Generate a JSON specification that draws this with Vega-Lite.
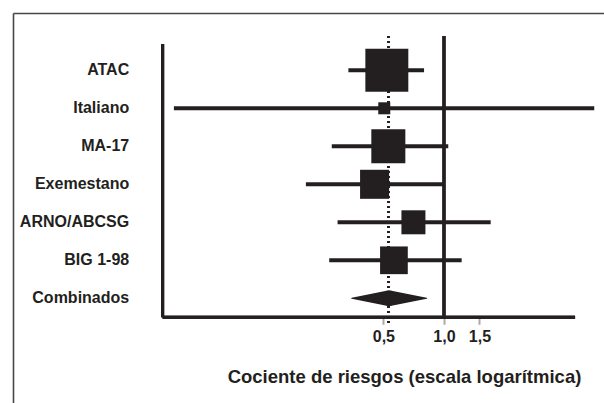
{
  "$schema": "https://vega.github.io/schema/vega-lite/v6.json",
  "width": 591,
  "height": 390,
  "autosize": {"type": "none"},
  "padding": {"left": 13, "top": 13, "right": 0, "bottom": 0},
  "background": "white",
  "config": {"view": {"stroke": null}, "font": "Liberation Sans", "axis": {"grid": false}},
  "datasets": {
    "studies": [
      {"study": "ATAC", "hr": 0.520, "lo": 0.335, "hi": 0.796, "weight": 34.6},
      {"study": "Italiano", "hr": 0.505, "lo": 0.0455, "hi": 5.58, "weight": 2.7},
      {"study": "MA-17", "hr": 0.529, "lo": 0.277, "hi": 1.05, "weight": 21.7},
      {"study": "Exemestano", "hr": 0.452, "lo": 0.206, "hi": 1.0, "weight": 15.8},
      {"study": "ARNO/ABCSG", "hr": 0.705, "lo": 0.296, "hi": 1.706, "weight": 10.8},
      {"study": "BIG 1-98", "hr": 0.564, "lo": 0.269, "hi": 1.224, "weight": 14.4}
    ],
    "pooled": [
      {"study": "Combinados", "hr": 0.348, "edge": 0},
      {"study": "Combinados", "hr": 0.533, "edge": 1},
      {"study": "Combinados", "hr": 0.820, "edge": 0}
    ]
  },
  "layer": [
    {
      "data": {"name": "pooled"},
      "mark": {"type": "rule", "color": "#231f20", "strokeWidth": 3},
      "encoding": {
        "x": {"datum": 0.04, "type": "quantitative",
          "scale": {"type": "log", "domain": [0.00722, 6.238], "nice": false},
          "axis": {"orient": "top", "offset": 0, "labels": false, "ticks": false, "grid": false, "title": null, "domainColor": "#474747", "domainWidth": 1.6}},
        "x2": {"datum": 4.48},
        "y": {"datum": "Combinados", "type": "nominal", "bandPosition": 1,
          "scale": {"type": "band", "domain": [" ", "ATAC", "Italiano", "MA-17", "Exemestano", "ARNO/ABCSG", "BIG 1-98", "Combinados", "  ", "   "], "paddingInner": 0, "paddingOuter": 0.1316, "align": 0.03},
          "axis": {"orient": "left", "offset": 0, "labels": false, "ticks": false, "title": null, "domainColor": "#474747", "domainWidth": 1.6}}
      }
    },
    {
      "data": {"name": "pooled"},
      "mark": {"type": "rule", "color": "#231f20", "strokeWidth": 3},
      "encoding": {
        "x": {"datum": 0.04, "type": "quantitative", "axis": null},
        "y": {"datum": "ATAC", "type": "nominal", "bandPosition": -0.19, "axis": null},
        "y2": {"datum": "Combinados", "bandPosition": 1}
      }
    },
    {
      "data": {"name": "pooled"},
      "mark": {"type": "rule", "color": "#231f20", "strokeWidth": 3},
      "encoding": {
        "x": {"datum": 1, "type": "quantitative", "axis": null},
        "y": {"datum": "ATAC", "type": "nominal", "bandPosition": -0.4, "axis": null},
        "y2": {"datum": "Combinados", "bandPosition": 1}
      }
    },
    {
      "data": {"name": "pooled"},
      "mark": {"type": "rule", "color": "#231f20", "strokeWidth": 2.5, "strokeDash": [2, 3]},
      "encoding": {
        "x": {"datum": 0.53, "type": "quantitative", "axis": null},
        "y": {"datum": "ATAC", "type": "nominal", "bandPosition": -0.4, "axis": null},
        "y2": {"datum": "Combinados", "bandPosition": 1.2}
      }
    },
    {
      "data": {"name": "studies"},
      "mark": {"type": "rule", "color": "#231f20", "strokeWidth": 4},
      "encoding": {
        "x": {"field": "lo", "type": "quantitative",
          "axis": {"orient": "bottom", "offset": -85.7, "values": [0.5, 1, 1.5], "domain": false, "grid": false,
            "tickColor": "#a9a9a9", "tickWidth": 2, "tickSize": 7,
            "labelExpr": "replace(format(datum.value, '.1f'), '.', ',')",
            "labelFont": "Liberation Sans", "labelFontSize": 16, "labelFontWeight": "bold", "labelColor": "#231f20", "labelPadding": 4,
            "title": "Cociente de riesgos (escala logarítmica)", "titleFont": "Liberation Sans", "titleFontSize": 18.5, "titleFontWeight": "bold", "titleColor": "#231f20",
            "titleX": 391, "titleY": 59, "titleBaseline": "middle", "titleAlign": "center"}},
        "x2": {"field": "hi"},
        "y": {"field": "study", "type": "nominal",
          "axis": {"orient": "left", "offset": -149.7, "domain": false, "ticks": false, "title": null,
            "labelFont": "Liberation Sans", "labelFontSize": 16, "labelFontWeight": "bold", "labelColor": "#231f20", "labelPadding": 34, "labelLimit": 300}}
      }
    },
    {
      "data": {"name": "studies"},
      "mark": {"type": "square", "color": "#231f20", "filled": true, "opacity": 1},
      "encoding": {
        "x": {"field": "hr", "type": "quantitative", "axis": null},
        "y": {"field": "study", "type": "nominal", "axis": null},
        "size": {"field": "weight", "type": "quantitative", "scale": {"domain": [0, 100], "range": [0, 5333], "zero": true}, "legend": null}
      }
    },
    {
      "data": {"name": "pooled"},
      "mark": {"type": "trail", "color": "#231f20"},
      "encoding": {
        "x": {"field": "hr", "type": "quantitative", "axis": null},
        "y": {"field": "study", "type": "nominal", "axis": null},
        "size": {"field": "edge", "type": "quantitative", "scale": {"domain": [0, 1], "range": [0, 16]}, "legend": null}
      }
    }
  ],
  "resolve": {"axis": {"x": "independent", "y": "independent"}, "scale": {"size": "independent"}}
}
